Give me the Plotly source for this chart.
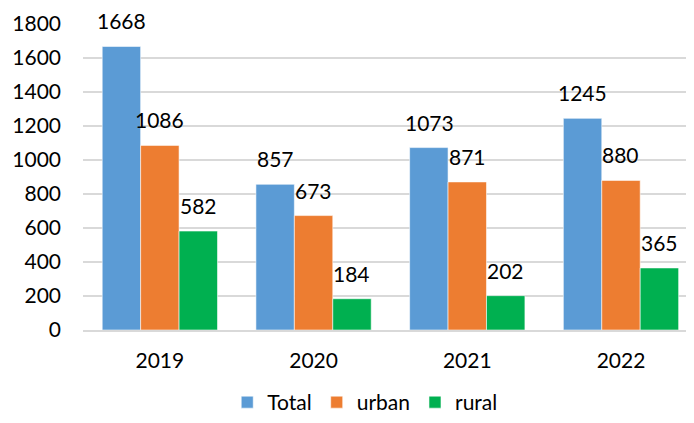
import plotly.graph_objects as go

years = ["2019", "2020", "2021", "2022"]
total = [1668, 857, 1073, 1245]
urban = [1086, 673, 871, 880]
rural = [582, 184, 202, 365]

series = [("Total", total, "#5b9bd5"), ("urban", urban, "#ed7d31"), ("rural", rural, "#00b050")]

font = "Lato, Carlito, Calibri, sans-serif"
FS = 21
fig = go.Figure()
bar_px = 38.2
for i, (name, vals, col) in enumerate(series):
    fig.add_trace(go.Bar(
        x=years, y=vals, name=name,
        marker=dict(color=col, line=dict(color="rgba(255,255,255,0.7)", width=0.8)),
    ))
for i, (name, vals, col) in enumerate(series):
    for j, v in enumerate(vals):
        # category axis: annotation x given as category index
        fig.add_annotation(
            x=j, y=v, xref="x", yref="y", text=str(v), showarrow=False,
            xanchor="center", yanchor="bottom", xshift=(i - 1) * bar_px, yshift=11,
            font=dict(size=FS, color="black", family=font),
        )

# page body has an 8px margin, so the figure is sized/offset to compensate
fig.update_layout(
    width=686, height=415,
    margin=dict(l=75, r=0, t=16, b=93),
    paper_bgcolor="white", plot_bgcolor="white",
    barmode="group", bargap=0.25, bargroupgap=0,
    font=dict(family=font, size=FS, color="black"),
    showlegend=True,
    legend=dict(orientation="h", x=0.52, xanchor="center", xref="container",
                y=0.0, yanchor="bottom", yref="container",
                font=dict(size=FS, family=font), itemwidth=30, tracegroupgap=0),
    yaxis=dict(range=[0, 1800], dtick=200, showgrid=True, gridcolor="#d9d9d9", gridwidth=1.5,
               zeroline=False, showline=False, ticks="", ticklabelstandoff=21,
               automargin=False, tickfont=dict(size=FS, family=font)),
    xaxis=dict(type="category", range=[-0.5, 3.475], showline=True, linecolor="#d9d9d9",
               linewidth=1.5, ticks="", automargin=False,
               tickfont=dict(size=FS, family=font), ticklabelstandoff=11),
)
fig.write_html("out.html")
